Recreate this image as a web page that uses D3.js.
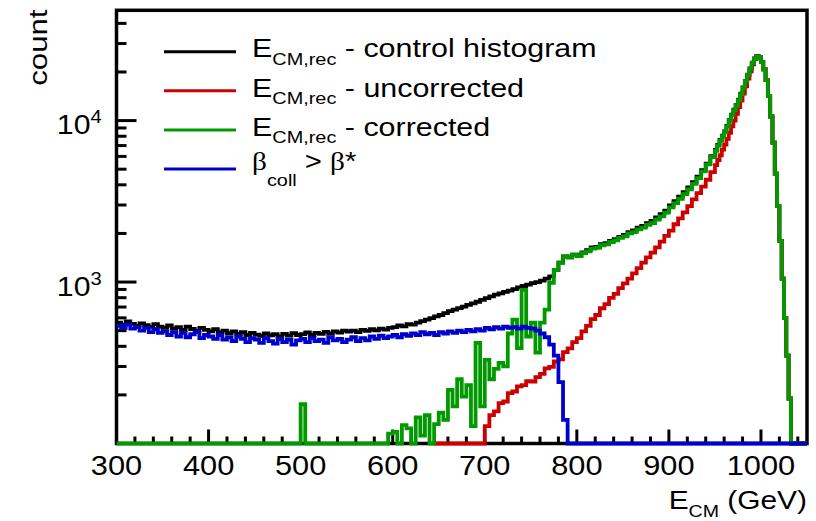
<!DOCTYPE html>
<html>
<head>
<meta charset="utf-8">
<script src="https://cdn.jsdelivr.net/npm/d3@7"></script>
<style>
  body { margin: 0; background: #fff; }
  svg { display: block; }
  text { font-family: "Liberation Sans", Arial, sans-serif; fill: #000; white-space: pre; }
</style>
</head>
<body>
<div id="plot"></div>
<script>
// histogram binning (GeV): 5 GeV bins from 300 to 950, 2.5 GeV bins from 950 to 1050
const binStart = 300;
const binWidth = 5;
const fineStart = 950;
const fineWidth = 2.5;

// E_CM,rec - control histogram (black)
const control = [
  560, 545, 570, 550, 535, 555, 540, 528, 548, 530,
  520, 538, 515, 525, 505, 530, 512, 498, 520, 505,
  495, 510, 488, 500, 482, 495, 478, 490, 470, 485,
  472, 465, 480, 468, 475, 460, 478, 466, 482, 470,
  476, 488, 470, 485, 478, 492, 480, 495, 486, 500,
  494, 500, 490, 505, 498, 510, 502, 515, 508, 520,
  525, 538, 532, 548, 545, 560, 572, 585, 598, 612,
  625, 642, 660, 675, 690, 705, 722, 738, 755, 775,
  795, 815, 835, 850, 868, 885, 905, 925, 945, 965,
  985, 1000, 1020, 1050, 1085, 1190, 1320, 1440, 1420, 1480,
  1465, 1525, 1575, 1640, 1650, 1715, 1740, 1795, 1845, 1905,
  1960, 2040, 2090, 2170, 2230, 2320, 2390, 2510, 2630, 2770,
  2980, 3170, 3380, 3600, 3850, 4150, 4500, 4930, 5420, 6020
];
const controlPeak = [
  6580, 7080, 7580, 8080, 8580, 9280, 10080, 10880, 11680, 12480,
  13480, 14680, 16050, 17550, 19250, 21050, 22850, 24250, 25050, 24650,
  23000, 20800, 17800, 14200, 10600, 7300, 4700, 2950, 1800, 1050,
  600, 350, 190, 0, 0, 0, 0, 0, 0, 0
];

// E_CM,rec - uncorrected (red), starts at 645 GeV
const uncorrectedFrom = 645;
const uncorrected = [
  0,
  0, 0, 0, 0, 0, 0, 0, 0, 0, 0,
  128, 150, 158, 178, 182, 205, 210, 226, 230, 243,
  242, 258, 270, 292, 298, 322, 332, 368, 388, 425,
  450, 495, 535, 590, 625, 688, 730, 798, 845, 918,
  980, 1050, 1130, 1220, 1320, 1420, 1520, 1640, 1780, 1930,
  2080, 2280, 2480, 2700, 2950, 3250, 3550, 3900, 4300, 4800
];
const uncorrectedPeak = [
  5300, 5700, 6100, 6600, 7100, 7700, 8400, 9200, 10000, 11000,
  12100, 13300, 14700, 16300, 18200, 20200, 22300, 24000, 25000, 24600,
  23000, 20800, 17800, 14200, 10600, 7300, 4700, 2950, 1800, 1050,
  600, 350, 190, 0, 0, 0, 0, 0, 0, 0
];

// E_CM,rec - corrected (green)
const corrected = [
  0, 0, 0, 0, 0, 0, 0, 0, 0, 0,
  0, 0, 0, 0, 0, 0, 0, 0, 0, 0,
  0, 0, 0, 0, 0, 0, 0, 0, 0, 0,
  0, 0, 0, 0, 0, 0, 0, 0, 0, 0,
  175, 0, 0, 0, 0, 0, 0, 0, 0, 0,
  0, 0, 0, 0, 0, 0, 0, 0, 0, 115,
  118, 0, 130, 124, 0, 145, 112, 150, 0, 132,
  155, 140, 215, 170, 250, 195, 230, 128, 420, 170,
  330, 250, 290, 316, 300, 480, 585, 390, 895, 460,
  560, 365, 560, 675, 990, 1190, 1320, 1440, 1420, 1480,
  1450, 1510, 1550, 1610, 1630, 1690, 1710, 1770, 1810, 1880,
  1920, 2000, 2040, 2120, 2170, 2260, 2320, 2440, 2550, 2690,
  2900, 3080, 3280, 3500, 3750, 4050, 4400, 4850, 5350, 5950
];
const correctedPeak = [
  6500, 7000, 7500, 8000, 8500, 9200, 10000, 10800, 11600, 12400,
  13400, 14600, 16000, 17500, 19200, 21000, 22800, 24200, 25000, 24600,
  23000, 20800, 17800, 14200, 10600, 7300, 4700, 2950, 1800, 1050,
  600, 350, 190, 0, 0, 0, 0, 0, 0, 0
];

// beta_coll > beta* (blue)
const betaCut = [
  535, 520, 545, 515, 525, 500, 520, 490, 510, 485,
  495, 470, 490, 460, 485, 455, 475, 490, 450, 470,
  460, 445, 470, 440, 455, 430, 460, 445, 425, 450,
  440, 420, 450, 430, 415, 445, 425, 440, 410, 435,
  445, 425, 450, 430, 440, 420, 455, 435, 445, 425,
  440, 455, 430, 450, 435, 460, 445, 465, 450, 460,
  470, 455, 475, 465, 480, 470, 490, 475, 485, 470,
  490, 480, 495, 485, 500, 490, 505, 495, 510, 500,
  520, 510, 525, 515, 530, 520, 525, 515, 530, 520,
  515, 500, 480, 455, 410, 350, 240, 140, 0, 0,
  0, 0, 0, 0, 0, 0, 0, 0, 0, 0,
  0, 0, 0, 0, 0, 0, 0, 0, 0, 0,
  0, 0, 0, 0, 0, 0, 0, 0, 0, 0
];
const betaCutPeak = [
  0, 0, 0, 0, 0, 0, 0, 0, 0, 0,
  0, 0, 0, 0, 0, 0, 0, 0, 0, 0,
  0, 0, 0, 0, 0, 0, 0, 0, 0, 0,
  0, 0, 0, 0, 0, 0, 0, 0, 0, 0
];

// axis ranges and ticks
const xDomain = [300, 1050];
const yDomain = [100, 48200];
const xMajorTicks = [300, 400, 500, 600, 700, 800, 900, 1000];
const xMinorStep = 20;
const yMajorTicks = [1000, 10000];
const yMinorTicks = [200, 300, 400, 500, 600, 700, 800, 900,
  2000, 3000, 4000, 5000, 6000, 7000, 8000, 9000, 20000, 30000, 40000];

const width = 816;
const height = 521;
const frame = { left: 116.5, right: 807, top: 10.3, bottom: 443.5 };

const svg = d3.select('#plot')
  .append('svg')
  .attr('width', width)
  .attr('height', height)
  .attr('xmlns', 'http://www.w3.org/2000/svg');

const x = d3.scaleLinear().domain(xDomain).range([frame.left, frame.right]);
const y = d3.scaleLog().domain(yDomain).range([frame.bottom, frame.top]);

// text with sub/superscripts, stretched a little sideways like the original font
const richText = (parent, tx, ty, parts, opts = {}) => {
  const t = parent.append('text')
    .attr('transform', `translate(${tx},${ty})${opts.rotate ? ' rotate(-90)' : ''} scale(${opts.sx || 1},1)`)
    .attr('text-anchor', opts.anchor || 'start');
  parts.forEach(p => {
    t.append('tspan')
      .attr('font-size', p.size)
      .attr('dy', p.dy || 0)
      .attr('font-family', p.serif ? '"Liberation Serif", "Times New Roman", serif' : null)
      .text(p.text);
  });
  return t;
};

// frame
svg.append('rect')
  .attr('x', frame.left)
  .attr('y', frame.top)
  .attr('width', frame.right - frame.left)
  .attr('height', frame.bottom - frame.top)
  .attr('fill', 'none')
  .attr('stroke', '#000')
  .attr('stroke-width', 3.5);

// x ticks
const ticks = svg.append('g').attr('stroke', '#000').attr('stroke-width', 3);
d3.range(xDomain[0], xDomain[1], xMinorStep).forEach(v => {
  const major = xMajorTicks.includes(v);
  ticks.append('line')
    .attr('x1', x(v)).attr('x2', x(v))
    .attr('y1', frame.bottom).attr('y2', frame.bottom - (major ? 14 : 7));
});

// y ticks
yMajorTicks.concat(yMinorTicks).forEach(v => {
  const major = yMajorTicks.includes(v);
  ticks.append('line')
    .attr('x1', frame.left).attr('x2', frame.left + (major ? 20 : 10))
    .attr('y1', y(v)).attr('y2', y(v));
});

// tick labels
xMajorTicks.forEach(v => {
  richText(svg, x(v), 475, [{ text: String(v), size: 27.5 }], { anchor: 'middle', sx: 1.12 });
});
yMajorTicks.forEach(v => {
  richText(svg, 101.7, y(v) + 13.5, [
    { text: '10', size: 27 },
    { text: String(Math.round(Math.log10(v))), size: 18, dy: -11 }
  ], { anchor: 'end', sx: 1.12 });
});

// axis titles
richText(svg, 807, 508.5, [
  { text: 'E', size: 26 },
  { text: 'CM', size: 17, dy: 8.5 },
  { text: ' (GeV)', size: 26, dy: -8.5 }
], { anchor: 'end', sx: 1.15 });

richText(svg, 46.7, 9.5, [{ text: 'count', size: 26 }], { anchor: 'end', rotate: true, sx: 1.2 });

// histograms
const yMin = yDomain[0];
const histLine = d3.line()
  .x(d => x(d[0]))
  .y(d => y(Math.max(d[1], yMin)))
  .curve(d3.curveStepAfter);

const toPoints = (coarse, from, fine) => {
  const pts = coarse.map((v, i) => [from + i * binWidth, v]);
  fine.forEach((v, i) => pts.push([fineStart + i * fineWidth, v]));
  pts.push([fineStart + fine.length * fineWidth, fine[fine.length - 1]]);
  return pts;
};

const series = [
  { values: control, peak: controlPeak, from: binStart, color: '#000000' },
  { values: uncorrected, peak: uncorrectedPeak, from: uncorrectedFrom, color: '#cc0000' },
  { values: corrected, peak: correctedPeak, from: binStart, color: '#009a00' },
  { values: betaCut, peak: betaCutPeak, from: binStart, color: '#0000cc' }
];

series.forEach(s => {
  svg.append('path')
    .attr('d', histLine(toPoints(s.values, s.from, s.peak)))
    .attr('fill', 'none')
    .attr('stroke', s.color)
    .attr('stroke-width', 3.8)
    .attr('stroke-linejoin', 'miter');
});

// legend
const legend = svg.append('g');
const legendRows = [
  { color: '#000000', parts: [{ text: 'E', size: 26 }, { text: 'CM,rec', size: 17, dy: 7.5 }, { text: ' - control histogram', size: 26, dy: -7.5 }] },
  { color: '#cc0000', parts: [{ text: 'E', size: 26 }, { text: 'CM,rec', size: 17, dy: 7.5 }, { text: ' - uncorrected', size: 26, dy: -7.5 }] },
  { color: '#009a00', parts: [{ text: 'E', size: 26 }, { text: 'CM,rec', size: 17, dy: 7.5 }, { text: ' - corrected', size: 26, dy: -7.5 }] },
  { color: '#0000cc', parts: [{ text: 'β', size: 25, serif: true }, { text: 'coll', size: 17, dy: 17 }, { text: ' > ', size: 25, dy: -17 }, { text: 'β', size: 25, serif: true }, { text: '*', size: 25 }] }
];
legendRows.forEach((r, i) => {
  const yc = 51.7 + 39.1 * i;
  legend.append('line')
    .attr('x1', 164).attr('x2', 236)
    .attr('y1', yc).attr('y2', yc)
    .attr('stroke', r.color)
    .attr('stroke-width', 3);
  richText(legend, 252, i < 3 ? yc + 5.7 : yc + 0.5, r.parts, { sx: 1.17 });
});
</script>
</body>
</html>
